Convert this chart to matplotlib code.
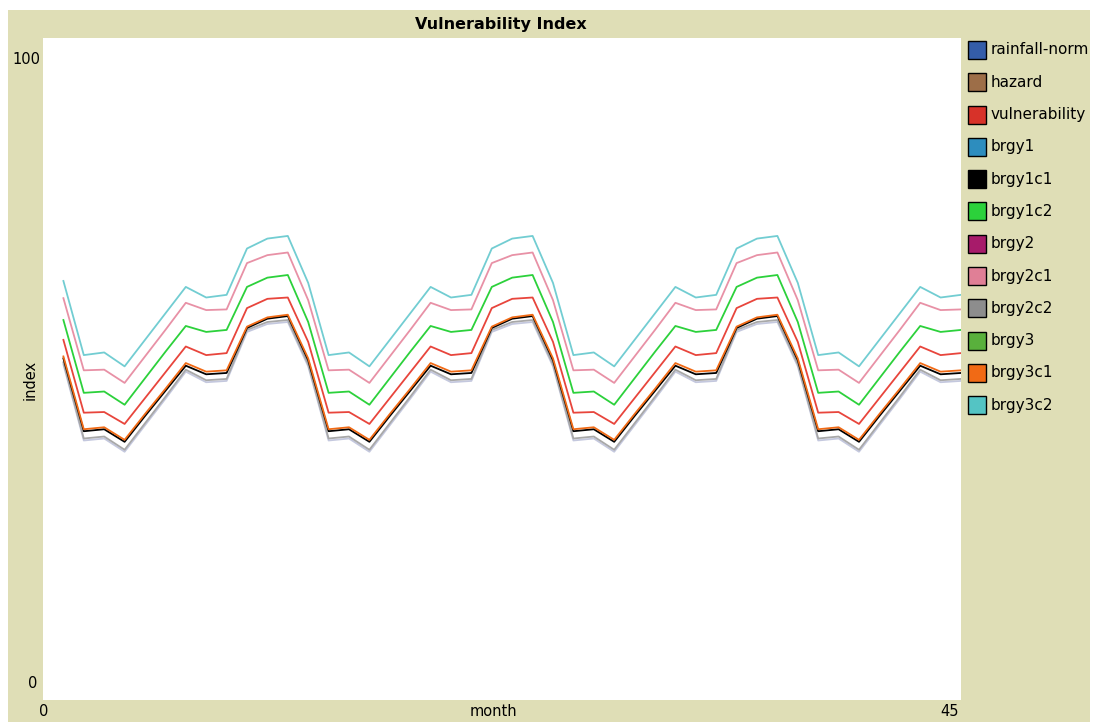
import matplotlib
matplotlib.use("Agg")
import matplotlib.pyplot as plt
from matplotlib.patches import Rectangle

W, H = 1096, 726

# monthly values (months 1..45)
months = list(range(1, 46))

brgy3c2 = [63.3, 52.1, 52.5, 50.4, 54.4, 58.4, 62.4, 60.8, 61.2, 68.2, 69.7, 70.1,
           63.0, 52.1, 52.5, 50.4, 54.4, 58.4, 62.4, 60.8, 61.2, 68.2, 69.7, 70.1,
           63.0, 52.1, 52.5, 50.4, 54.4, 58.4, 62.4, 60.8, 61.2, 68.2, 69.7, 70.1,
           63.0, 52.1, 52.5, 50.4, 54.4, 58.4, 62.4, 60.8, 61.2]
brgy2c1 = [60.7, 49.8, 49.9, 47.9, 51.9, 55.9, 60.0, 58.9, 59.0, 66.0, 67.2, 67.6,
           60.4, 49.8, 49.9, 47.9, 51.9, 55.9, 60.0, 58.9, 59.0, 66.0, 67.2, 67.6,
           60.4, 49.8, 49.9, 47.9, 51.9, 55.9, 60.0, 58.9, 59.0, 66.0, 67.2, 67.6,
           60.4, 49.8, 49.9, 47.9, 51.9, 55.9, 60.0, 58.9, 59.0]
brgy1c2 = [57.4, 46.4, 46.6, 44.6, 48.6, 52.6, 56.5, 55.6, 55.9, 62.4, 63.8, 64.2,
           57.1, 46.4, 46.6, 44.6, 48.6, 52.6, 56.5, 55.6, 55.9, 62.4, 63.8, 64.2,
           57.1, 46.4, 46.6, 44.6, 48.6, 52.6, 56.5, 55.6, 55.9, 62.4, 63.8, 64.2,
           57.1, 46.4, 46.6, 44.6, 48.6, 52.6, 56.5, 55.6, 55.9]
vulnerability = [54.4, 43.4, 43.5, 41.7, 45.6, 49.5, 53.4, 52.1, 52.4, 59.2, 60.6, 60.8,
                 54.1, 43.4, 43.5, 41.7, 45.6, 49.5, 53.4, 52.1, 52.4, 59.2, 60.6, 60.8,
                 54.1, 43.4, 43.5, 41.7, 45.6, 49.5, 53.4, 52.1, 52.4, 59.2, 60.6, 60.8,
                 54.1, 43.4, 43.5, 41.7, 45.6, 49.5, 53.4, 52.1, 52.4]
brgy3c1 = [51.9, 40.9, 41.2, 39.3, 43.2, 47.0, 50.9, 49.6, 49.8, 56.4, 57.8, 58.2,
           51.6, 40.9, 41.2, 39.3, 43.2, 47.0, 50.9, 49.6, 49.8, 56.4, 57.8, 58.2,
           51.6, 40.9, 41.2, 39.3, 43.2, 47.0, 50.9, 49.6, 49.8, 56.4, 57.8, 58.2,
           51.6, 40.9, 41.2, 39.3, 43.2, 47.0, 50.9, 49.6, 49.8]
brgy1c1 = [51.6, 40.6, 40.9, 39.0, 42.9, 46.7, 50.5, 49.2, 49.4, 56.2, 57.6, 58.0,
           51.3, 40.6, 40.9, 39.0, 42.9, 46.7, 50.5, 49.2, 49.4, 56.2, 57.6, 58.0,
           51.3, 40.6, 40.9, 39.0, 42.9, 46.7, 50.5, 49.2, 49.4, 56.2, 57.6, 58.0,
           51.3, 40.6, 40.9, 39.0, 42.9, 46.7, 50.5, 49.2, 49.4]
brgy2c2 = [51.0, 39.5, 39.8, 37.8, 41.8, 45.8, 49.9, 48.3, 48.5, 55.9, 57.1, 57.4,
           50.7, 39.5, 39.8, 37.8, 41.8, 45.8, 49.9, 48.3, 48.5, 55.9, 57.1, 57.4,
           50.7, 39.5, 39.8, 37.8, 41.8, 45.8, 49.9, 48.3, 48.5, 55.9, 57.1, 57.4,
           50.7, 39.5, 39.8, 37.8, 41.8, 45.8, 49.9, 48.3, 48.5]
brgy1 = [50.7, 39.2, 39.5, 37.5, 41.5, 45.5, 49.6, 48.0, 48.2, 55.6, 56.8, 57.1,
         50.4, 39.2, 39.5, 37.5, 41.5, 45.5, 49.6, 48.0, 48.2, 55.6, 56.8, 57.1,
         50.4, 39.2, 39.5, 37.5, 41.5, 45.5, 49.6, 48.0, 48.2, 55.6, 56.8, 57.1,
         50.4, 39.2, 39.5, 37.5, 41.5, 45.5, 49.6, 48.0, 48.2]

pen_names = ["rainfall-norm", "hazard", "vulnerability", "brgy1", "brgy1c1", "brgy1c2",
             "brgy2", "brgy2c1", "brgy2c2", "brgy3", "brgy3c1", "brgy3c2"]
pen_colors = ["#345da9", "#9d6e48", "#d73229", "#2d8dbe", "#000000", "#2cd13b",
              "#a71b6a", "#e07f96", "#8d8d8d", "#59b03c", "#f16a15", "#54c4c4"]

BEIGE = "#dfdeb6"


def fx(px):
    return px / W


def fy(py):
    return 1 - py / H


fig = plt.figure(figsize=(W / 100, H / 100), dpi=100, facecolor="white")
panel = Rectangle((fx(8), fy(722)), fx(1090) - fx(8), fy(10) - fy(722),
                  transform=fig.transFigure, facecolor=BEIGE, edgecolor="none", zorder=-5)
fig.patches.append(panel)

ax = fig.add_axes([fx(43), fy(700), fx(961) - fx(43), fy(38) - fy(700)])
ax.set_zorder(1)
ax.set_facecolor("white")
ax.set_xlim(0, 45)
ax.set_ylim(0, 100)
ax.set_xticks([])
ax.set_yticks([])
for s in ax.spines.values():
    s.set_visible(False)

# draw in pen order, later pens on top
lines = [
    (brgy1, "#c4c8de"),
    (brgy2c2, "#a8a8a8"),
    (brgy1c1, "#000000"),
    (brgy3c1, "#f16a15"),
    (vulnerability, "#e8453c"),
    (brgy1c2, "#2cd13b"),
    (brgy2c1, "#e891a6"),
    (brgy3c2, "#72cdd2"),
]
for vals, col in lines:
    ax.plot(months, vals, color=col, lw=1.3, solid_joinstyle="round")

fig.text(fx(501), fy(24), "Vulnerability Index", ha="center", va="center",
         fontsize=11.5, fontweight="bold")
fig.text(fx(26), fy(60), "100", ha="center", va="center", fontsize=10.5)
fig.text(fx(33), fy(683), "0", ha="center", va="center", fontsize=10.5)
fig.text(fx(44), fy(712), "0", ha="center", va="center", fontsize=10.5)
fig.text(fx(950), fy(712), "45", ha="center", va="center", fontsize=10.5)
fig.text(fx(493), fy(712), "month", ha="center", va="center", fontsize=10.5)
fig.text(fx(30), fy(380), "index", ha="center", va="center", fontsize=10.5, rotation=90)

# legend
for i, (name, col) in enumerate(zip(pen_names, pen_colors)):
    yc = 50 + i * 32.3
    fig.patches.append(Rectangle((fx(968), fy(yc + 9)), fx(18), 18 / H,
                                 transform=fig.transFigure, facecolor=col,
                                 edgecolor="black", lw=1.0, zorder=2))
    t = fig.text(fx(991), fy(yc), name, ha="left", va="center", fontsize=11)
    t.set_clip_path(panel)

fig.savefig("out.png", dpi=100, facecolor="white")
